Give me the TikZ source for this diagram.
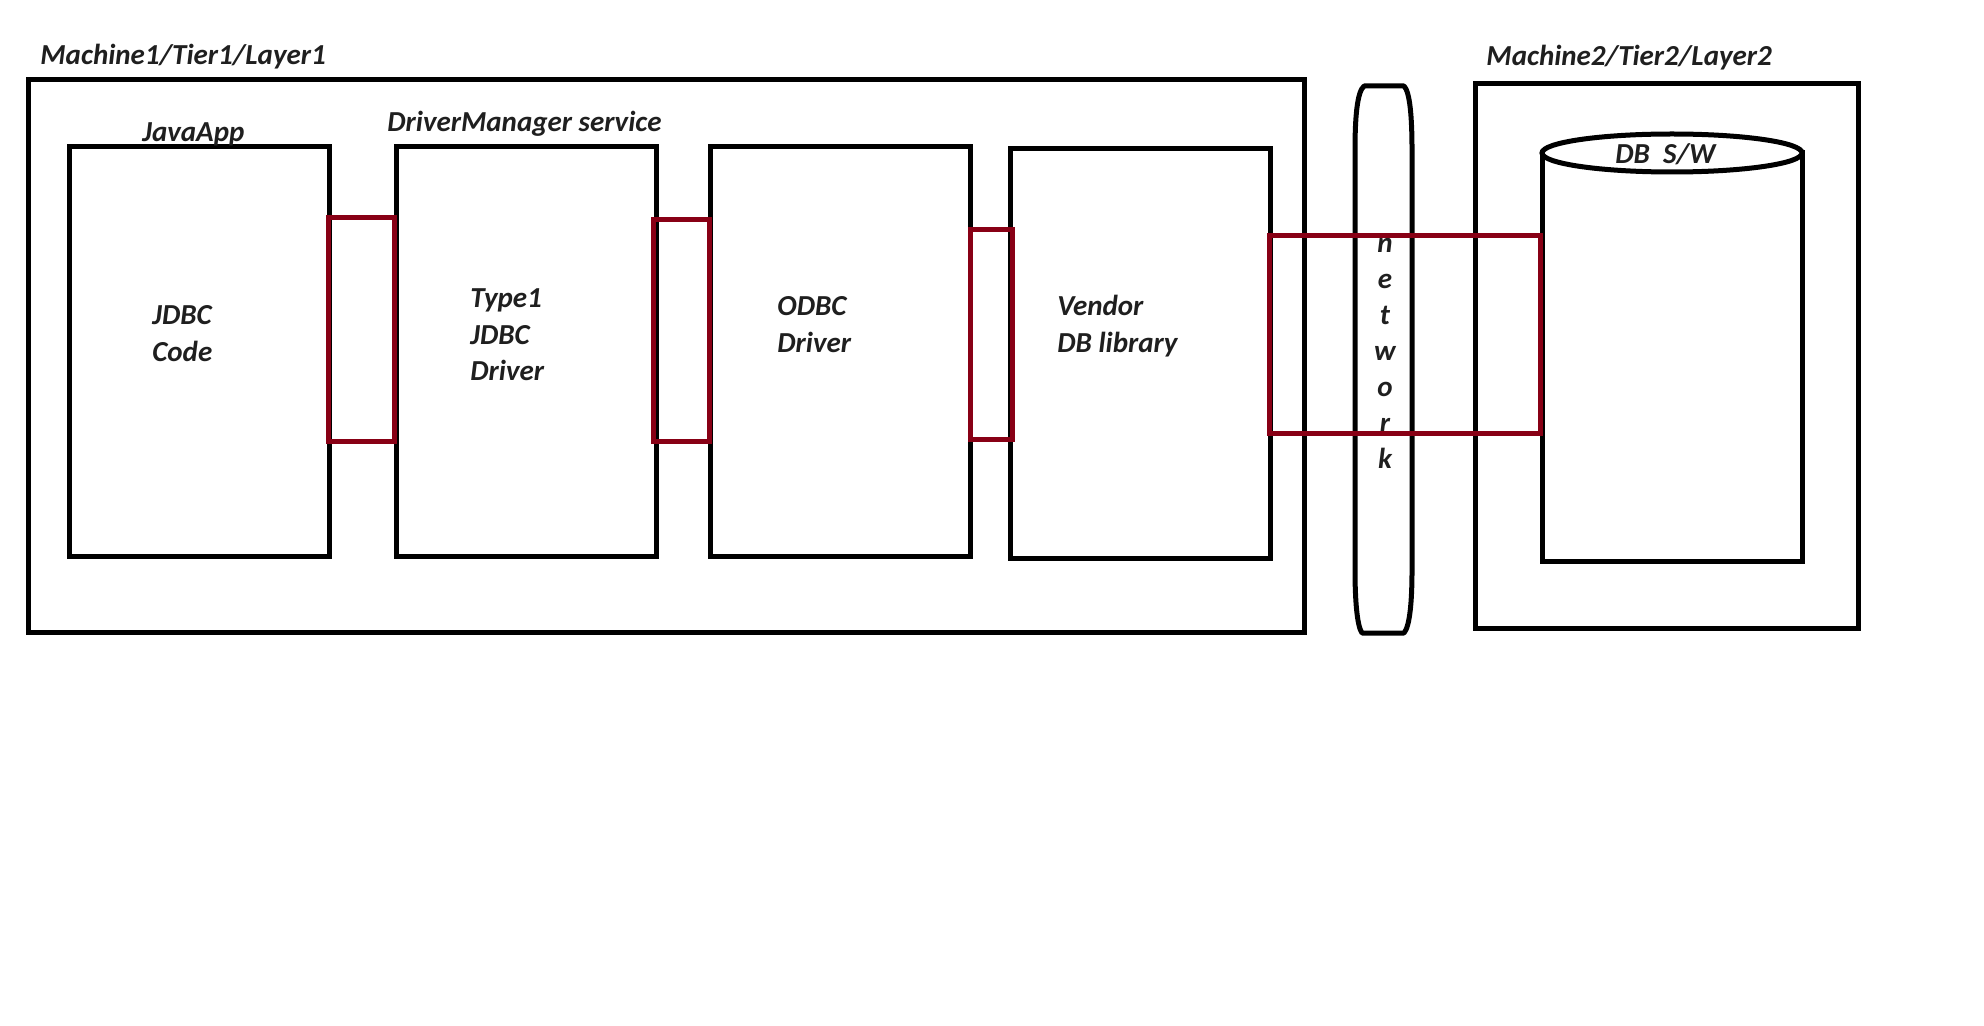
\documentclass[tikz,border=0pt]{standalone}
\usepackage{fontspec}
\setmainfont{Carlito}
\usepackage{tikz}
\usetikzlibrary{positioning, calc}
\definecolor{linkred}{RGB}{136,0,21}
\tikzset{
  machine/.style={
    rectangle, draw=black, line width=2.5pt, outer sep=0pt, inner sep=0pt
  },
  layerbox/.style={
    rectangle, draw=black, line width=2.5pt, outer sep=0pt, inner sep=0pt,
    minimum width=130pt, minimum height=204.5pt
  },
  link/.style={
    draw=linkred, line width=2.5pt
  },
  lbl/.style={
    font=\fontsize{14.5}{18}\selectfont\bfseries\itshape, text=black!88,
    inner sep=0pt, align=left, anchor=base west
  }
}

\begin{document}
\begin{tikzpicture}[x=0.5pt, y=-0.5pt, node distance=20pt]
\useasboundingbox (0,0) rectangle (1984,1026);
% machine 1
\node[machine, minimum width=638pt, minimum height=276pt] (mach1) at (666,356) {};
\node[layerbox] (java) at (199.5,351.5) {};
\node[layerbox, right=33.5pt of java] (type1) {};
\node[layerbox, right=27pt of type1] (odbc) {};
\node[layerbox, right=20pt of odbc, yshift=-1pt] (vendor) {};
% network
\draw[line width=2.5pt, line join=round] (1364,86) -- (1404,86)
  .. controls (1410,92) and (1412,118) .. (1412,150) -- (1412,570)
  .. controls (1412,600) and (1410,626) .. (1404,633) -- (1362,633)
  .. controls (1357,626) and (1355,600) .. (1355,570) -- (1355,150)
  .. controls (1355,118) and (1357,92) .. (1364,86) -- cycle;
% machine 2
\node[machine, minimum width=191.5pt, minimum height=272pt] (mach2) at (1666.5,356) {};
\node[machine, minimum width=130pt, minimum height=204pt] (db) at (1672,357) {};
\draw[line width=2.5pt, fill=white] (db.north) ellipse [x radius=65pt, y radius=9.5pt];
% labels
\node[lbl] (m1lbl) at (40,65) {Machine1/Tier1/Layer1};
\node[lbl] (m2lbl) at (1486,66) {Machine2/Tier2/Layer2};
\node[lbl] (javalbl) at (142,142) {JavaApp};
\node[lbl] (dmlbl) at (387,132) {DriverManager service};
\node[lbl] (jdbclbl) at (152,361) {JDBC\\Code};
\node[lbl] (type1lbl) at (470,380) {Type1\\JDBC\\Driver};
\node[lbl] (odbclbl) at (777,352) {ODBC\\Driver};
\node[lbl] (vendorlbl) at (1057,352) {Vendor\\DB library};
\node[lbl] (dblbl) at (1615,164) {DB\ \ S/W};
\node[lbl, anchor=base, align=center] (netlbl) at (1385,468) {n\\e\\t\\w\\o\\r\\k};
% connectors
\draw[link] ($(java.east |- 0,218)+(-1,0)$) rectangle ($(type1.west |- 0,441)+(-2,0)$);
\draw[link] ($(type1.east |- 0,220)+(-3,0)$) rectangle ($(odbc.west |- 0,441)+(-1,0)$);
\draw[link] (odbc.east |- 0,230) rectangle ($(vendor.west |- 0,439)+(2,0)$);
\draw[link] ($(vendor.east |- 0,236)+(-1,0)$) rectangle ($(db.west |- 0,433)+(-2,0)$);
\end{tikzpicture}
\end{document}
